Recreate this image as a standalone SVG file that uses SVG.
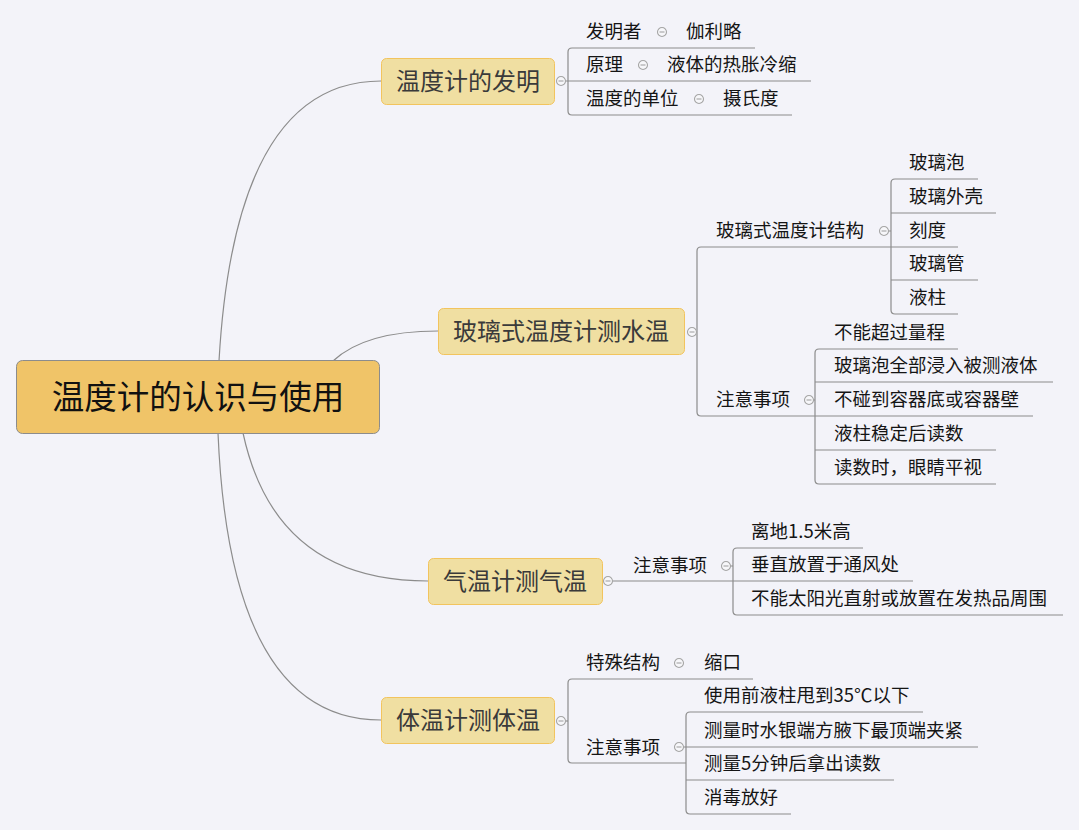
<svg xmlns="http://www.w3.org/2000/svg" width="1079" height="830" viewBox="0 0 1079 830">
<style>
.bg{fill:#F3F3F9}
.ln{fill:none;stroke:#8C8C8C;stroke-width:1.2}
.root rect{fill:#F0C468;stroke:#8C8C8C;stroke-width:1}
.root text{font-family:"Noto Sans CJK SC","Noto Sans",sans-serif;font-size:32.5px;fill:#111;text-anchor:middle}
.br rect{fill:#F0DFA2;stroke:#F2C45E;stroke-width:1}
.br text{font-family:"Noto Sans CJK SC","Noto Sans",sans-serif;font-size:24px;fill:#3a3a3a;text-anchor:middle}
.t{font-family:"Noto Sans CJK SC","Noto Sans",sans-serif;font-size:18.5px;fill:#151515}
.c{fill:#F7F7FA;stroke:#A5A5A5;stroke-width:1.1}
.m{stroke:#A5A5A5;stroke-width:1.1}
</style>
<defs>
<g id="col"><circle class="c" r="4.5"/><line class="m" x1="-2.5" y1="0" x2="2.5" y2="0"/></g>
</defs>
<rect class="bg" width="1079" height="830"/>
<g id="connectors">
<path class="ln" d="M219,361 Q235,81 381,81"/>
<path class="ln" d="M333,361 Q365,331 438,331"/>
<path class="ln" d="M243,433 Q275,581 428,581"/>
<path class="ln" d="M218,433 Q230,720 381,720"/>
<path class="ln" d="M755,48 H572 Q568,48 568,52 V111 Q568,115 572,115 H792"/>
<path class="ln" d="M565.5,81 H811"/>
<path class="ln" d="M958,247 H701 Q697,247 697,251 V412 Q697,416 701,416 H1033"/>
<path class="ln" d="M696.5,332 H697"/>
<path class="ln" d="M978,179 H895 Q891,179 891,183 V310 Q891,314 895,314 H958"/>
<path class="ln" d="M891,213 H996 M891,280 H978 M888.5,231 H891"/>
<path class="ln" d="M958,349 H819 Q815,349 815,353 V480 Q815,484 819,484 H996"/>
<path class="ln" d="M815,382 H1053 M815,450 H996 M813.5,400 H815"/>
<path class="ln" d="M863,548 H737 Q733,548 733,552 V611 Q733,615 737,615 H1063"/>
<path class="ln" d="M612.5,581 H913 M730.5,566 H733"/>
<path class="ln" d="M753,679 H572 Q568,679 568,683 V759 Q568,763 572,763 H686"/>
<path class="ln" d="M565.5,721 H568"/>
<path class="ln" d="M923,712 H690 Q686,712 686,716 V810 Q686,814 690,814 H791"/>
<path class="ln" d="M683.5,747 H978 M686,780 H894"/>
</g>
<g id="root" class="root"><rect x="16.5" y="360.5" width="363" height="73" rx="6"/><text x="198" y="409">温度计的认识与使用</text></g>
<g id="b1" class="br"><rect x="381.5" y="58.5" width="173" height="46" rx="5"/><text x="468" y="90">温度计的发明</text><use href="#col" x="561" y="81"/></g>
<g id="b1-1"><text class="t" x="586" y="38">发明者</text><use href="#col" x="662" y="32"/></g>
<g id="b1-1-1"><text class="t" x="686" y="38">伽利略</text></g>
<g id="b1-2"><text class="t" x="586" y="71">原理</text><use href="#col" x="643" y="65"/></g>
<g id="b1-2-1"><text class="t" x="667" y="71">液体的热胀冷缩</text></g>
<g id="b1-3"><text class="t" x="586" y="105">温度的单位</text><use href="#col" x="699" y="99"/></g>
<g id="b1-3-1"><text class="t" x="723" y="105">摄氏度</text></g>
<g id="b2" class="br"><rect x="438.5" y="308.5" width="246" height="46" rx="5"/><text x="561" y="340">玻璃式温度计测水温</text><use href="#col" x="692" y="332"/></g>
<g id="b2-1"><text class="t" x="716" y="237">玻璃式温度计结构</text><use href="#col" x="884" y="231"/></g>
<g id="b2-1-1"><text class="t" x="909" y="169">玻璃泡</text></g>
<g id="b2-1-2"><text class="t" x="909" y="203">玻璃外壳</text></g>
<g id="b2-1-3"><text class="t" x="909" y="237">刻度</text></g>
<g id="b2-1-4"><text class="t" x="909" y="270">玻璃管</text></g>
<g id="b2-1-5"><text class="t" x="909" y="304">液柱</text></g>
<g id="b2-2"><text class="t" x="716" y="406">注意事项</text><use href="#col" x="809" y="400"/></g>
<g id="b2-2-1"><text class="t" x="834" y="339">不能超过量程</text></g>
<g id="b2-2-2"><text class="t" x="834" y="372">玻璃泡全部浸入被测液体</text></g>
<g id="b2-2-3"><text class="t" x="834" y="406">不碰到容器底或容器壁</text></g>
<g id="b2-2-4"><text class="t" x="834" y="440">液柱稳定后读数</text></g>
<g id="b2-2-5"><text class="t" x="834" y="474">读数时，眼睛平视</text></g>
<g id="b3" class="br"><rect x="428.5" y="558.5" width="174" height="46" rx="5"/><text x="515" y="590">气温计测气温</text><use href="#col" x="608" y="581"/></g>
<g id="b3-1"><text class="t" x="633" y="572">注意事项</text><use href="#col" x="726" y="566"/></g>
<g id="b3-1-1"><text class="t" x="751" y="538">离地1.5米高</text></g>
<g id="b3-1-2"><text class="t" x="751" y="571">垂直放置于通风处</text></g>
<g id="b3-1-3"><text class="t" x="751" y="605">不能太阳光直射或放置在发热品周围</text></g>
<g id="b4" class="br"><rect x="381.5" y="697.5" width="173" height="46" rx="5"/><text x="468" y="729">体温计测体温</text><use href="#col" x="561" y="721"/></g>
<g id="b4-1"><text class="t" x="586" y="669">特殊结构</text><use href="#col" x="679" y="663"/></g>
<g id="b4-1-1"><text class="t" x="704" y="669">缩口</text></g>
<g id="b4-2"><text class="t" x="586" y="754">注意事项</text><use href="#col" x="679" y="747"/></g>
<g id="b4-2-1"><text class="t" x="704" y="702">使用前液柱甩到35℃以下</text></g>
<g id="b4-2-2"><text class="t" x="704" y="737">测量时水银端方腋下最顶端夹紧</text></g>
<g id="b4-2-3"><text class="t" x="704" y="770">测量5分钟后拿出读数</text></g>
<g id="b4-2-4"><text class="t" x="704" y="804">消毒放好</text></g>
</svg>
